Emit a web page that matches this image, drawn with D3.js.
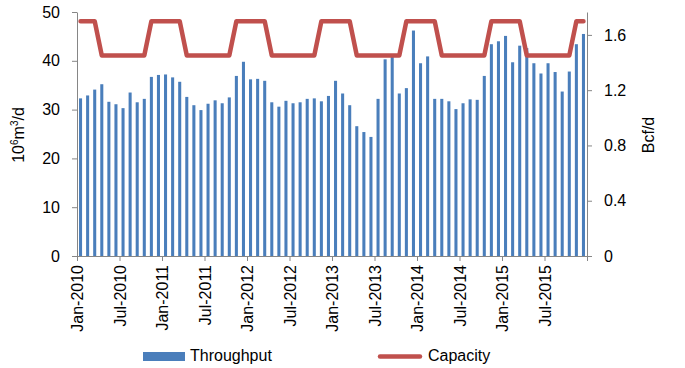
<!DOCTYPE html>
<head>
  <meta charset="utf-8">
  <script src="https://d3js.org/d3.v7.min.js"></script>
  <style>
    body { margin:0; background:#fff; }
    text { font-family: "Liberation Sans", Arial, sans-serif; fill:#000; }
  </style>
</head>
<body>
<script>
  var width = 685,
      height = 368;

  // monthly throughput, 10^6 m3/d, Jan-2010 .. Dec-2015
  var throughput = [
    32.3, 32.9, 34.1, 35.2, 31.6, 31.1, 30.3, 33.5, 31.5, 32.2, 36.7, 37.1,
    37.2, 36.6, 35.7, 32.6, 30.9, 29.9, 31.2, 31.9, 31.3, 32.5, 36.9, 39.8,
    36.2, 36.3, 35.9, 31.5, 30.6, 31.8, 31.3, 31.5, 32.2, 32.3, 31.7, 32.8,
    35.9, 33.3, 30.9, 26.6, 25.4, 24.4, 32.2, 40.3, 40.8, 33.3, 34.4, 46.2,
    39.5, 40.9, 32.2, 32.2, 31.7, 30.1, 31.3, 32.1, 32.0, 36.9, 43.4, 44.0,
    45.1, 39.7, 43.1, 42.6, 39.5, 37.4, 39.5, 37.7, 33.7, 37.8, 43.4, 45.5
  ];
  // capacity, same unit
  var capacity = [
    48.1, 48.1, 48.1, 41.1, 41.1, 41.1, 41.1, 41.1, 41.1, 41.1, 48.1, 48.1,
    48.1, 48.1, 48.1, 41.1, 41.1, 41.1, 41.1, 41.1, 41.1, 41.1, 48.1, 48.1,
    48.1, 48.1, 48.1, 41.1, 41.1, 41.1, 41.1, 41.1, 41.1, 41.1, 48.1, 48.1,
    48.1, 48.1, 48.1, 41.1, 41.1, 41.1, 41.1, 41.1, 41.1, 41.1, 48.1, 48.1,
    48.1, 48.1, 48.1, 41.1, 41.1, 41.1, 41.1, 41.1, 41.1, 41.1, 48.1, 48.1,
    48.1, 48.1, 48.1, 41.1, 41.1, 41.1, 41.1, 41.1, 41.1, 41.1, 48.1, 48.1
  ];
  var xTickLabels = ["Jan-2010", "Jul-2010", "Jan-2011", "Jul-2011", "Jan-2012", "Jul-2012",
                     "Jan-2013", "Jul-2013", "Jan-2014", "Jul-2014", "Jan-2015", "Jul-2015"];
  var leftTicks = [0, 10, 20, 30, 40, 50];
  var rightTicks = [0, 0.4, 0.8, 1.2, 1.6];

  var bcfPerMcm = 0.0353147;

  var plotL = 77, plotR = 587, plotT = 12, plotB = 256;

  var svg = d3.select("body").append("svg")
    .attr("width", width)
    .attr("height", height);

  var x = d3.scaleBand()
    .domain(d3.range(throughput.length))
    .range([plotL, plotR])
    .paddingInner(0.57)
    .paddingOuter(0.285);

  var xTick = d3.scaleLinear().domain([0, throughput.length]).range([plotL, plotR]);

  var yL = d3.scaleLinear().domain([0, 50]).range([plotB, plotT]);
  var yR = d3.scaleLinear().domain([0, 50 * bcfPerMcm]).range([plotB, plotT]);

  // bars
  svg.append("g").selectAll("rect")
    .data(throughput)
    .enter().append("rect")
    .attr("x", function(d, i) { return x(i); })
    .attr("width", x.bandwidth())
    .attr("y", function(d) { return yL(d); })
    .attr("height", function(d) { return yL(0) - yL(d); })
    .attr("fill", "#4a7ebb");

  // capacity line
  var line = d3.line()
    .x(function(d, i) { return x(i) + x.bandwidth() / 2; })
    .y(function(d) { return yL(d); });

  svg.append("path")
    .datum(capacity)
    .attr("d", line)
    .attr("fill", "none")
    .attr("stroke", "#c0504d")
    .attr("stroke-width", 4.5)
    .attr("stroke-linejoin", "round")
    .attr("stroke-linecap", "round");

  // axes
  var gl = svg.append("g").attr("class", "axis")
    .attr("transform", "translate(" + plotL + ",0)")
    .call(d3.axisLeft(yL).tickValues(leftTicks).tickSize(5).tickPadding(12).tickSizeOuter(0));

  var gr = svg.append("g").attr("class", "axis")
    .attr("transform", "translate(" + plotR + ",0)")
    .call(d3.axisRight(yR).tickValues(rightTicks).tickSize(5).tickPadding(12).tickSizeOuter(0)
      .tickFormat(function(d) { return d === 0 ? "0" : d3.format(".1f")(d); }));

  var gx = svg.append("g").attr("class", "axis")
    .attr("transform", "translate(0," + plotB + ")")
    .call(d3.axisBottom(xTick).tickValues(d3.range(0, throughput.length + 1, 6))
      .tickSize(5).tickSizeOuter(0)
      .tickFormat(function(d) { return xTickLabels[d / 6] || ""; }));

  gx.selectAll("text")
    .attr("transform", "rotate(-90)")
    .attr("text-anchor", "end")
    .attr("x", -9)
    .attr("y", 0)
    .attr("dy", "0.35em");

  svg.selectAll(".axis text")
    .style("font-size", "16px")
    .style("font-family", "'Liberation Sans', Arial, sans-serif")
    .attr("fill", "#000");
  svg.selectAll(".axis path").attr("stroke", "#868686");
  svg.selectAll(".axis line").attr("stroke", "#868686");

  // axis titles
  var tl = svg.append("text")
    .attr("transform", "translate(24,135) rotate(-90)")
    .attr("text-anchor", "middle")
    .style("font-size", "16px");
  tl.append("tspan").text("10");
  tl.append("tspan").attr("dy", -6).style("font-size", "10px").text("6");
  tl.append("tspan").attr("dy", 6).text("m");
  tl.append("tspan").attr("dy", -6).style("font-size", "10px").text("3");
  tl.append("tspan").attr("dy", 6).text("/d");

  svg.append("text")
    .attr("transform", "translate(654,135) rotate(-90)")
    .attr("text-anchor", "middle")
    .style("font-size", "16px")
    .text("Bcf/d");

  // legend
  svg.append("rect")
    .attr("x", 143).attr("y", 352)
    .attr("width", 42).attr("height", 9)
    .attr("fill", "#4a7ebb");
  svg.append("text")
    .attr("x", 190).attr("y", 361)
    .style("font-size", "16px")
    .text("Throughput");

  svg.append("line")
    .attr("x1", 380).attr("x2", 420)
    .attr("y1", 356.5).attr("y2", 356.5)
    .attr("stroke", "#c0504d")
    .attr("stroke-width", 4.5)
    .attr("stroke-linecap", "round");
  svg.append("text")
    .attr("x", 428).attr("y", 361)
    .style("font-size", "16px")
    .text("Capacity");
</script>
</body>
